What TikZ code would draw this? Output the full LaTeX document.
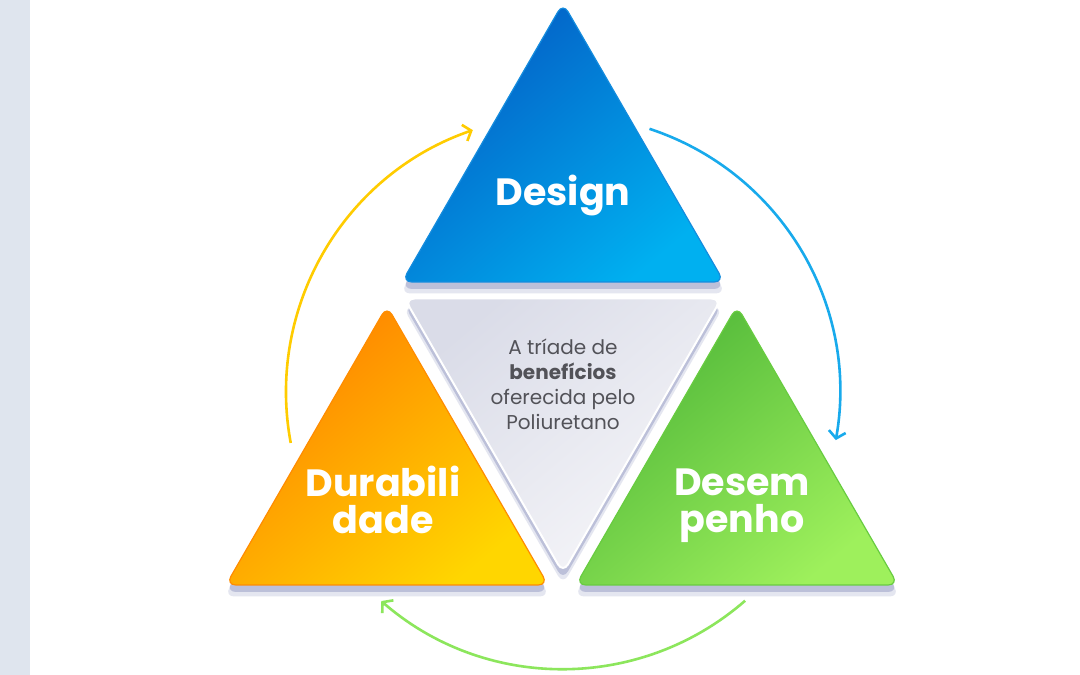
\documentclass[tikz,border=0pt]{standalone}
\usepackage{fontspec}
\setsansfont{Poppins}
\usetikzlibrary{positioning,arrows.meta,shapes.geometric,calc,shadows}
\definecolor{TriaStrip}{RGB}{223,229,238}
\definecolor{TriaShadow}{RGB}{150,156,196}
\definecolor{BlueDark}{RGB}{4,92,196}
\definecolor{BlueLight}{RGB}{0,176,240}
\definecolor{BlueEdge}{RGB}{20,140,222}
\definecolor{OrangeDark}{RGB}{255,128,0}
\definecolor{OrangeLight}{RGB}{255,214,0}
\definecolor{OrangeEdge}{RGB}{255,140,0}
\definecolor{GreenDark}{RGB}{78,182,56}
\definecolor{GreenLight}{RGB}{158,240,92}
\definecolor{GreenEdge}{RGB}{104,204,64}
\definecolor{GrayDark}{RGB}{218,220,232}
\definecolor{GrayLight}{RGB}{246,246,249}
\definecolor{MidText}{RGB}{82,82,88}
\definecolor{CycYellow}{RGB}{255,204,0}
\definecolor{CycBlue}{RGB}{24,170,236}
\definecolor{CycGreen}{RGB}{140,230,92}
\tikzset{
  tria box/.style={
    regular polygon,
    regular polygon sides=3,
    minimum size=372pt,
    inner sep=0pt,
    rounded corners=10pt,
    line width=1.2pt,
    drop shadow={shadow xshift=0pt, shadow yshift=-10pt, shadow scale=1.01, fill=TriaShadow, opacity=0.25},
    drop shadow={shadow xshift=0pt, shadow yshift=-7pt, fill=TriaShadow, opacity=0.5}
  },
  tria blue/.style={tria box, draw=BlueEdge, top color=BlueDark, bottom color=BlueLight, shading angle=40},
  tria orange/.style={tria box, draw=OrangeEdge, top color=OrangeDark, bottom color=OrangeLight, shading angle=40},
  tria green/.style={tria box, draw=GreenEdge, top color=GreenDark, bottom color=GreenLight, shading angle=40},
  tria mid/.style={tria box, shape border rotate=180, minimum size=366pt, draw=white, line width=2pt,
    top color=GrayDark, bottom color=GrayLight, shading angle=40},
  tria title/.style={text=white, align=center, font=\sffamily\bfseries\fontsize{38}{37}\selectfont},
  tria note/.style={text=MidText, align=center, font=\sffamily\fontsize{20}{25}\selectfont},
  cyc arrow/.style={line width=2.6pt, -{Straight Barb[length=7pt,width=17pt]}}
}
\begin{document}
\begin{tikzpicture}[x=1pt,y=1pt]
\useasboundingbox (0,0) rectangle (1080,675);
\fill[white] (0,0) rectangle (1080,675);
\fill[TriaStrip] (0,0) rectangle (30,675);
% triangles
\node[tria mid] (mid) at (563,285) {};
\node[tria blue] (design) at (563,486) {};
\node[tria orange] (dura) at (387,183) {};
\node[tria green] (perf) at (737,183) {};
% labels
\node[tria title] (designtxt) at ([yshift=-7pt]design.center) {Design};
\node[tria title] (duratxt) at ([shift={(-4pt,-8pt)}]dura.center) {Durabili\\dade};
\node[tria title] (perftxt) at ([shift={(5pt,-14pt)}]perf.center) {Desem\\penho};
\node[tria note] (midtxt) at ([yshift=6pt]mid.center) {A tríade de\\\textbf{benefícios}\\oferecida pelo\\Poliuretano};
% cycle arrows
\coordinate (hub) at (563,283);
\coordinate (ys) at ($(hub)+(190.6:277)$);
\coordinate (bs) at ($(hub)+(71.8:277)$);
\coordinate (gs) at ($(hub)+(-48.9:277)$);
\draw[cyc arrow, CycYellow] (ys) arc[start angle=190.6, end angle=109, radius=277];
\draw[cyc arrow, CycBlue] (bs) arc[start angle=71.8, end angle=-10, radius=277];
\draw[cyc arrow, CycGreen] (gs) arc[start angle=-48.9, end angle=-131, radius=277];
\end{tikzpicture}
\end{document}
